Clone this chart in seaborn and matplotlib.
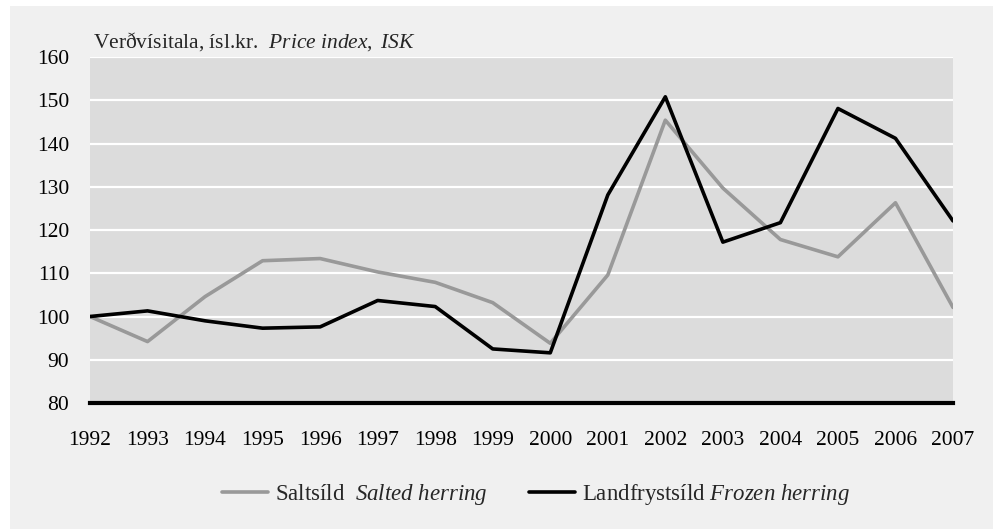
import matplotlib
matplotlib.use("Agg")
import matplotlib.pyplot as plt
from matplotlib.patches import Rectangle
import seaborn as sns
import pandas as pd

years = list(range(1992, 2008))
salted = [100, 94.2, 104.6, 112.9, 113.4, 110.3, 107.9, 103.2, 93.8, 109.6,
          145.4, 129.7, 117.8, 113.8, 126.3, 102.1]
frozen = [100, 101.3, 99.0, 97.3, 97.6, 103.7, 102.3, 92.5, 91.6, 128.1,
          150.8, 117.2, 121.7, 148.1, 141.2, 122.1]
series_names = ["Saltsíld", "Landfrystsíld"]
legend_labels = [r"Saltsíld  $\mathit{Salted\ herring}$",
                 r"Landfrystsíld $\mathit{Frozen\ herring}$"]
yticks = list(range(80, 161, 10))

df = pd.DataFrame({
    "year": years * 2,
    "value": salted + frozen,
    "series": [series_names[0]] * len(years) + [series_names[1]] * len(years),
})

sns.set_theme(style="white")
plt.rcParams["font.family"] = ["Liberation Serif", "DejaVu Serif"]
plt.rcParams["mathtext.fontset"] = "custom"
plt.rcParams["mathtext.rm"] = "Liberation Serif"
plt.rcParams["mathtext.it"] = "Liberation Serif:italic"

fig = plt.figure(figsize=(10, 5.29), dpi=100, facecolor="white")
fig.patches.append(Rectangle((0.010, 0.0), 0.983, 0.9887, transform=fig.transFigure,
                             facecolor="#f0f0f0", edgecolor="none", zorder=-10))
ax = fig.add_axes([0.09, 0.2382, 0.863, 0.654])
ax.set_facecolor("#dcdcdc")

palette = {series_names[0]: "#999999", series_names[1]: "black"}
sns.lineplot(data=df, x="year", y="value", hue="series", palette=palette,
             linewidth=2.6, ax=ax, legend=False)

ax.set_xlim(1992, 2007)
ax.set_ylim(80, 160)
ax.set_xticks(years)
ax.set_yticks(yticks)
ax.grid(axis="y", color="white", linewidth=1.6)
ax.set_axisbelow(True)
for s in ["left", "right", "top"]:
    ax.spines[s].set_visible(False)
ax.spines["bottom"].set_color("black")
ax.spines["bottom"].set_linewidth(3)
ax.spines["bottom"].set_zorder(5)
ax.tick_params(axis="both", length=0, labelsize=15.5, colors="black")
ax.tick_params(axis="y", pad=15)
ax.tick_params(axis="x", pad=20)
ax.set_xlabel("")
ax.set_ylabel("")

ax.text(0.004, 1.012, r"Verðvísitala, ísl.kr.  $\mathit{Price\ index,\ ISK}$",
        transform=ax.transAxes, fontsize=15.5, ha="left", va="bottom")

handles = [plt.Line2D([], [], color=palette[n], linewidth=2.6) for n in series_names]
fig.legend(handles, legend_labels, loc="center", bbox_to_anchor=(0.536, 0.066),
           ncol=2, frameon=False, fontsize=16.5, handlelength=2.0,
           handletextpad=0.3, columnspacing=1.8)

fig.savefig("out.png", dpi=100, facecolor=fig.get_facecolor())
